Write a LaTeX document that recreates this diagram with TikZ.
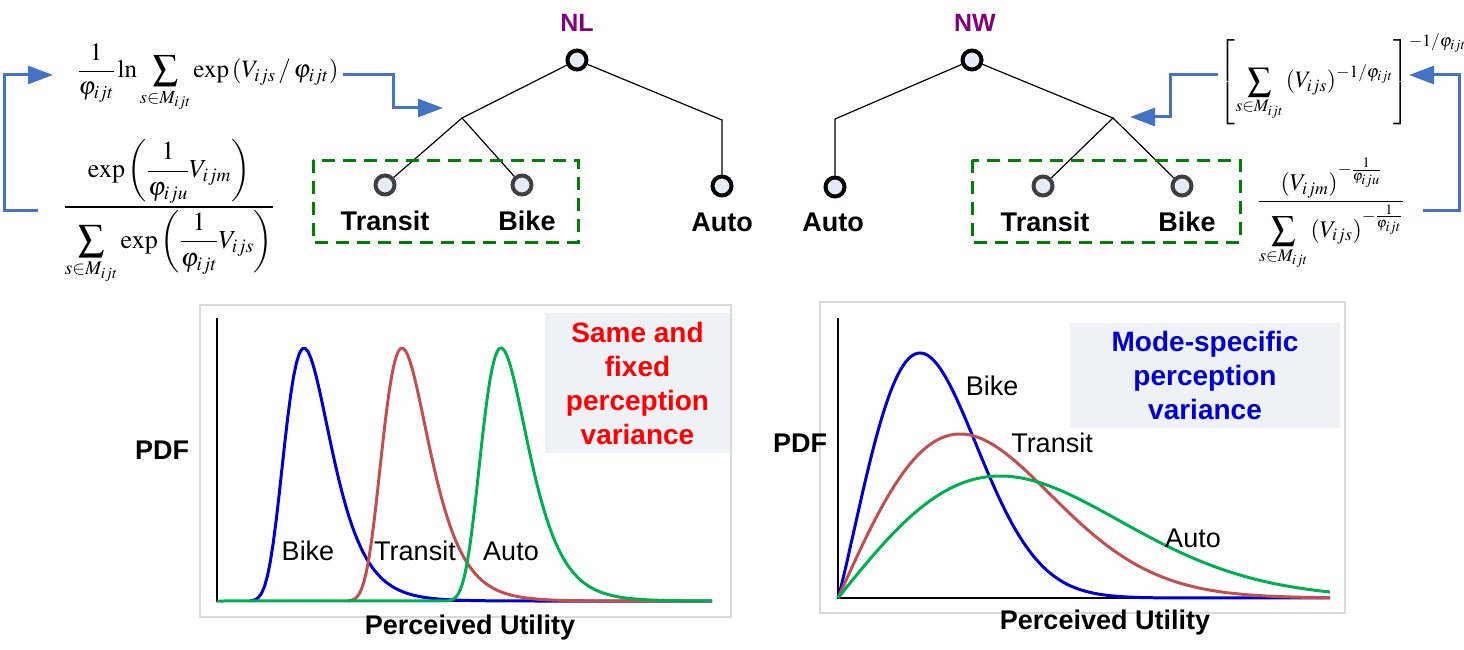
\documentclass[tikz,border=0pt]{standalone}
\usepackage{amsmath}
\usepackage{mathptmx}
\usepackage[no-math]{fontspec}
\setsansfont{Liberation Sans}
\usetikzlibrary{arrows.meta}
\definecolor{flowblue}{RGB}{68,114,196}
\definecolor{nestgreen}{RGB}{0,128,0}
\definecolor{nodefill}{RGB}{228,236,247}
\definecolor{modelpurple}{RGB}{128,0,128}
\definecolor{curveblue}{RGB}{0,0,204}
\definecolor{curvered}{RGB}{192,80,77}
\definecolor{curvegreen}{RGB}{0,176,80}
\definecolor{notefill}{RGB}{238,241,246}
\definecolor{framegray}{RGB}{217,217,217}
\definecolor{notered}{RGB}{255,0,0}
\definecolor{noteblue}{RGB}{0,0,204}
\tikzset{mode/.style={circle,draw=black,line width=4pt,fill=nodefill,minimum size=19pt,inner sep=0pt},
	nestmode/.style={mode,draw=black!75},
	modename/.style={font=\sffamily\bfseries\fontsize{27}{32}\selectfont},
	modelname/.style={font=\sffamily\bfseries\fontsize{25}{30}\selectfont,text=modelpurple},
	branch/.style={draw,line width=1.2pt},
	nestbox/.style={draw=nestgreen,line width=3pt,dash pattern=on 13pt off 8pt},
	flow/.style={draw=flowblue,line width=3pt,-{Triangle[length=25pt,width=18pt]}},
	formula/.style={font=\fontsize{26}{30}\selectfont,inner sep=0pt},
	frame/.style={draw=framegray,line width=1.5pt},
	axis/.style={line width=2pt},
	density/.style={line width=3pt,line join=round},
	curvename/.style={font=\sffamily\fontsize{27}{32}\selectfont},
	axisname/.style={font=\sffamily\bfseries\fontsize{27}{32}\selectfont},
	note/.style={fill=notefill,font=\sffamily\bfseries\fontsize{28}{34}\selectfont,align=center,inner sep=0pt}}
\begin{document}
\begin{tikzpicture}[x=1pt,y=-1pt]
		\useasboundingbox (0,0) rectangle (1464,650);
		\begin{scope}[every node/.style={formula}]
			\node[font=\fontsize{25}{29}\selectfont] (nlsum) at (208,78) {$\displaystyle \frac{1}{\varphi_{ijt}}\ln\sum_{s\in M_{ijt}}\exp\left(V_{ijs}\,/\,\varphi_{ijt}\right)$};
			\node (nlprob) at (169,212) {$\displaystyle \frac{\exp\left(\dfrac{1}{\varphi_{iju}}V_{ijm}\right)}{\displaystyle\sum_{s\in M_{ijt}}\exp\left(\dfrac{1}{\varphi_{ijt}}V_{ijs}\right)}$};
			\node[font=\fontsize{23.5}{27}\selectfont] (nwsum) at (1343,79) {$\displaystyle \left[\sum_{s\in M_{ijt}}\left(V_{ijs}\right)^{-1/\varphi_{ijt}}\right]^{-1/\varphi_{ijt}}$};
			\node[font=\fontsize{24}{28}\selectfont] (nwprob) at (1331,214) {$\displaystyle \frac{\left(V_{ijm}\right)^{-\frac{1}{\varphi_{iju}}}}{\displaystyle\sum_{s\in M_{ijt}}\left(V_{ijs}\right)^{-\frac{1}{\varphi_{ijt}}}}$};
		\end{scope}
		\node[modelname] (nlname) at (577,23) {NL};
		\node[modelname] (nwname) at (975,23) {NW};
		\node[mode] (nlroot) at (577,60) {};
		\node[nestmode] (nltransit) at (385,185) {};
		\node[nestmode] (nlbike) at (522,185) {};
		\node[mode] (nlauto) at (722,186) {};
		\node[mode] (nwroot) at (972,60) {};
		\node[mode] (nwauto) at (835,187) {};
		\node[nestmode] (nwtransit) at (1043,186) {};
		\node[nestmode] (nwbike) at (1182,186) {};
		\coordinate (nlnest) at (462,118);
		\coordinate (nlbend) at (722,120);
		\coordinate (nwbend) at (835,119);
		\coordinate (nwnest) at (1113,118);
		\path[branch] (nlroot) -- (nlnest) -- (nltransit);
		\path[branch] (nlnest) -- (nlbike);
		\path[branch] (nlroot) -- (nlbend) -- (nlauto);
		\path[branch] (nwroot) -- (nwbend) -- (nwauto);
		\path[branch] (nwroot) -- (nwnest) -- (nwtransit);
		\path[branch] (nwnest) -- (nwbike);
		\node[modename] (nltransitname) at (385,221) {Transit};
		\node[modename] (nlbikename) at (527,221) {Bike};
		\node[modename] (nlautoname) at (722,222) {Auto};
		\node[modename] (nwautoname) at (833,222) {Auto};
		\node[modename] (nwtransitname) at (1045,222) {Transit};
		\node[modename] (nwbikename) at (1187,222) {Bike};
		\draw[nestbox] (313,160) rectangle (578,242);
		\draw[nestbox] (972,160) rectangle (1240,242);
		\coordinate (nlloopstart) at (38,210);
		\coordinate (nlloopend) at (53,75);
		\coordinate (nlfeed) at (343,75);
		\coordinate (nlin) at (443,108);
		\coordinate (nwfeed) at (1218,75);
		\coordinate (nwin) at (1130,117);
		\coordinate (nwloopstart) at (1423,210);
		\coordinate (nwloopend) at (1409,75);
		\draw[flow] (nlloopstart) -- ++(-34,0) |- (nlloopend);
		\draw[flow] (nlfeed) -- ++(50,0) |- (nlin);
		\draw[flow] (nwfeed) -- ++(-48,0) |- (nwin);
		\draw[flow] (nwloopstart) -- ++(36,0) |- (nwloopend);
		\draw[frame] (200,305) rectangle (731,617);
		\node[note,text=notered,minimum width=185pt,minimum height=140pt] (samenote) at (637.5,383) {Same and\\fixed\\perception\\variance};
		\draw[axis] (217,318) -- (217,601) -- (712,601);
		\draw[density,curveblue] plot[domain=250:712,samples=160] (\x,{601-253*exp(1-(\x-304)/23-exp(-(\x-304)/23))});
		\draw[density,curvered] plot[domain=348:712,samples=160] (\x,{601-253*exp(1-(\x-402)/23-exp(-(\x-402)/23))});
		\draw[density,curvegreen] (217,601) -- plot[domain=447:712,samples=160] (\x,{601-253*exp(1-(\x-501)/23-exp(-(\x-501)/23))});
		\node[curvename] (nlbikecurve) at (308,551) {Bike};
		\node[curvename] (nltransitcurve) at (415,551) {Transit};
		\node[curvename] (nlautocurve) at (511,551) {Auto};
		\node[axisname] (nlpdf) at (162,450) {PDF};
		\node[axisname] (nlutility) at (470,628) {Perceived Utility};
		\draw[frame] (820,302) rectangle (1345,613);
		\node[note,text=noteblue,minimum width=270pt,minimum height=105pt] (modenote) at (1205,375.5) {Mode-specific\\perception\\variance};
		\draw[axis] (838,318) -- (838,598) -- (1330,598);
		\draw[density,curveblue] plot[domain=838:1330,samples=160] (\x,{598-245*((\x-838)/82)^1.1*exp((1.1/2.1)*(1-((\x-838)/82)^2.1))});
		\draw[density,curvered] plot[domain=838:1330,samples=160] (\x,{598-164*((\x-838)/122)*exp((1-((\x-838)/122)^2)/2)});
		\draw[density,curvegreen] plot[domain=838:1330,samples=160] (\x,{598-122*((\x-838)/162)*exp((1-((\x-838)/162)^2)/2)});
		\node[curvename] (nwbikecurve) at (992,386) {Bike};
		\node[curvename] (nwtransitcurve) at (1052,443) {Transit};
		\node[curvename] (nwautocurve) at (1193,538) {Auto};
		\node[axisname] (nwpdf) at (800,443) {PDF};
		\node[axisname] (nwutility) at (1105,623) {Perceived Utility};
	\end{tikzpicture}
\end{document}
